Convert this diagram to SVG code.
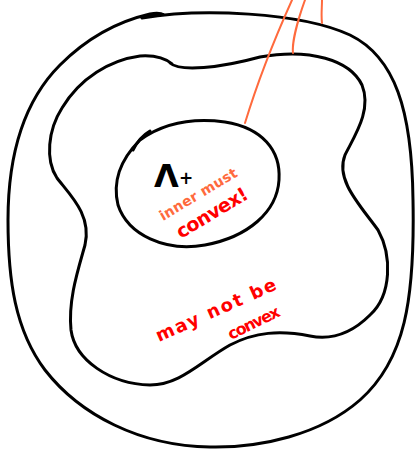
<svg xmlns="http://www.w3.org/2000/svg" width="418" height="449" viewBox="0 0 418 449">
<style>
.blk{fill:none;stroke:#000;stroke-width:3;stroke-linecap:round;stroke-linejoin:round}
.org{fill:none;stroke:#ff6a3d;stroke-width:2;stroke-linecap:round}
.red{fill:#ff0000;font-family:"DejaVu Sans","Liberation Sans",sans-serif;font-weight:bold}
.orgt{fill:#ff6a3d;font-family:"DejaVu Sans","Liberation Sans",sans-serif;font-weight:bold}
</style>
<rect width="418" height="449" fill="#fff"/>
<g id="outer">
<path class="blk" d="M 142,18 C 200,8 300,12 350,35 C 395,57 412,110 413,200 C 415,300 405,360 360,400 C 320,435 260,448 210,447 C 140,446 80,415 45,370 C 15,330 8,280 8,220 C 8,150 25,100 60,65 C 85,40 115,22 150,14 C 156,13 161,13 164,15"/>
</g>
<g id="middle">
<path class="blk" d="M 170,63 C 180,72 220,68 260,57 C 310,48 350,60 362,85 C 372,110 355,135 345,155 C 335,180 360,205 378,230 C 392,255 392,295 370,315 C 350,335 330,340 310,336 C 280,330 255,332 230,345 C 200,362 180,385 150,385 C 110,384 75,360 71,330 C 68,300 78,270 85,245 C 92,215 70,195 57,178 C 45,160 48,130 62,108 C 80,78 110,60 140,56 C 155,55 165,58 172,64"/>
</g>
<g id="inner">
<path class="blk" d="M 140,140 C 165,122 195,118 225,122 C 262,128 281,150 279,180 C 277,212 248,237 205,245 C 165,252 128,235 118,205 C 112,180 122,158 140,140"/>
<path class="blk" d="M 133,150 C 138,140 143,135 150,131"/>
<text x="154" y="187" font-family="'DejaVu Sans','Liberation Sans',sans-serif" font-weight="bold" font-size="32" fill="#000">Λ</text>
<text x="179" y="184" font-family="'DejaVu Sans',sans-serif" font-weight="bold" font-size="17" fill="#000">+</text>
<text class="orgt" font-size="14" transform="translate(163,221) rotate(-31)" textLength="88" lengthAdjust="spacing">inner must</text>
<text class="red" font-size="19" transform="translate(181,239) rotate(-31)" textLength="80" lengthAdjust="spacing">convex!</text>
</g>
<g id="middle-label">
<text class="red" font-size="18" transform="translate(159,342) rotate(-24)" textLength="130" lengthAdjust="spacing">may not be</text>
<text class="red" font-size="16" transform="translate(231,340) rotate(-26)" textLength="56" lengthAdjust="spacing">convex</text>
</g>
<g id="connectors">
<path class="org" d="M 245,123 C 252,100 265,60 292,0"/>
<path class="org" d="M 293,53 C 292,45 296,25 305,0"/>
<path class="org" d="M 322,23 C 321,15 322,8 322,0"/>
</g>
</svg>
